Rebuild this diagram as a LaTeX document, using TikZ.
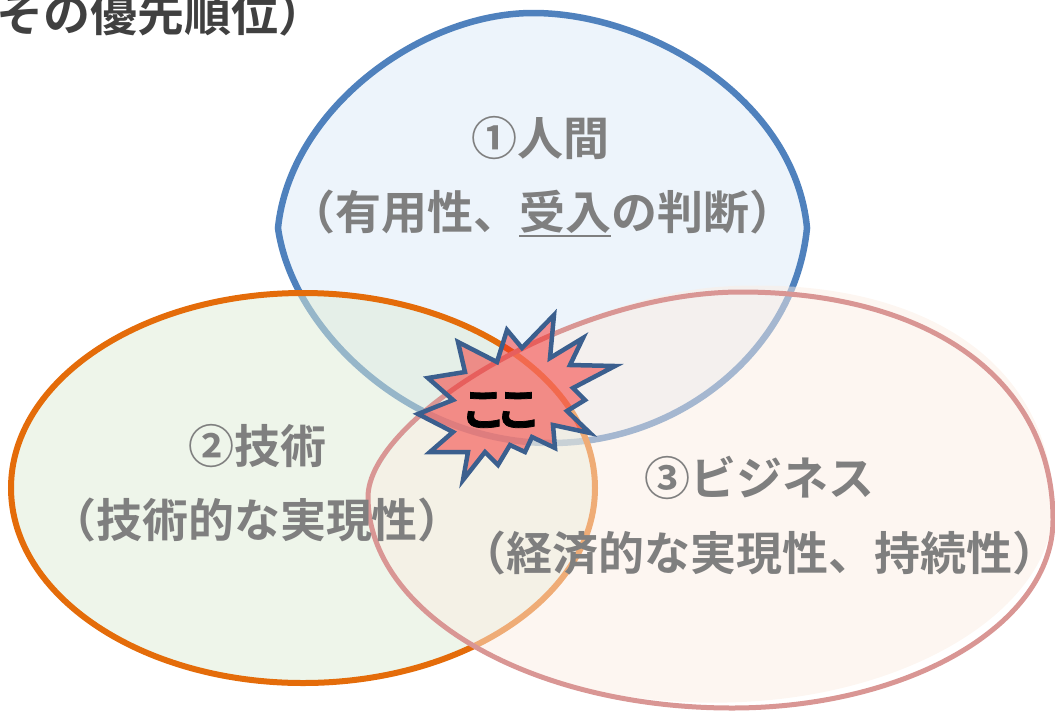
\documentclass[tikz,border=0pt]{standalone}
\usepackage{fontspec}
\setmainfont{Noto Sans CJK JP}[BoldFont={* Bold}]
\newfontfamily\heavyjp{Noto Sans CJK JP Bold}[FakeBold=1.6]
\definecolor{bluestroke}{HTML}{4F81BD}
\definecolor{bluefill}{HTML}{DBE9F7}
\definecolor{orangestroke}{HTML}{E46C0A}
\definecolor{orangefill}{HTML}{DDEBD5}
\definecolor{pinkstroke}{HTML}{D99694}
\definecolor{pinkfill}{HTML}{FBEDE3}
\definecolor{starfill}{HTML}{F52A28}
\definecolor{starstroke}{HTML}{3B5F8E}
\definecolor{labelgray}{HTML}{7F7F7F}
\definecolor{titlegray}{HTML}{404040}
\newcommand{\myul}[1]{\setbox0\hbox{#1}\rlap{\smash{\rule[-8pt]{\wd0}{2.5pt}}}\box0}
\newcommand{\bluepath}{(278,228) .. controls (290,110) and (420,13) .. (533,13)
  .. controls (650,13) and (795,100) .. (807,228)
  .. controls (795,350) and (680,443) .. (551,443)
  .. controls (410,443) and (292,330) .. (278,228) -- cycle}
\newcommand{\pinkpath}{(368,497) .. controls (368,420) and (570,292) .. (741,292)
  .. controls (930,292) and (1053,380) .. (1053,520)
  .. controls (1053,624) and (909,708) .. (732,708)
  .. controls (531,708) and (368,614) .. (368,497) -- cycle}
\begin{document}
\begin{tikzpicture}[x=1pt,y=-1pt,
  lbl/.style={inner sep=0pt, text=labelgray, font=\bfseries\fontsize{46}{50}\selectfont},
  titlelbl/.style={inner sep=0pt, text=titlegray, font=\bfseries\fontsize{47}{50}\selectfont},
  starlbl/.style={inner sep=0pt, text=black, font=\heavyjp\fontsize{46}{50}\selectfont},
  bluering/.style={draw=bluestroke, line width=6.5pt},
  orangering/.style={draw=orangestroke, line width=6pt},
  pinkring/.style={draw=pinkstroke, line width=5pt},
  burst/.style={draw=starstroke, line width=4.5pt, fill=starfill, fill opacity=0.5, line join=miter}
]
\useasboundingbox (0,0) rectangle (1055,710);
\clip (0,0) rectangle (1055,710);

% human (blue)
\path[fill=bluefill, fill opacity=0.5] \bluepath;
\path[bluering] \bluepath;

% technology (orange)
\path[fill=orangefill, fill opacity=0.5] (303,488) ellipse [x radius=292, y radius=195];
\path[orangering] (303,488) ellipse [x radius=292, y radius=195];

% business (pink)
\path[fill=pinkfill, fill opacity=0.5, rotate around={2.5:(600,500)}] \pinkpath;
\path[pinkring] \pinkpath;

% texts
\node[titlelbl, anchor=base west] (title) at (-4,31) {その優先順位）};
\node[lbl] (h1) at (540,138) {①人間};
\node[lbl] (h2) at (542,212) {（有用性、\myul{受入}の判断）};
\node[lbl] (t1) at (257,446) {②技術};
\node[lbl] (t2) at (257,520) {（技術的な実現性）};
\node[lbl] (b1) at (759,478) {③ビジネス};
\node[lbl] (b2) at (759,553) {（経済的な実現性、持続性）};

% burst
\draw[burst] (554,315) -- (550,358) -- (583,338) -- (570,365) -- (615,366) -- (573,388)
 -- (585,400) -- (567,411) -- (590,433) -- (553,425) -- (555,448) -- (532,437)
 -- (525,452) -- (510,445) -- (498,465) -- (485,452) -- (463,480) -- (468,452)
 -- (430,452) -- (453,432) -- (418,414) -- (453,400) -- (428,378) -- (465,372)
 -- (458,342) -- (497,362) -- (507,330) -- (522,348) -- cycle;
\node[starlbl] (here) at (501,410) {こ\hspace{-11pt}こ};
\end{tikzpicture}
\end{document}
